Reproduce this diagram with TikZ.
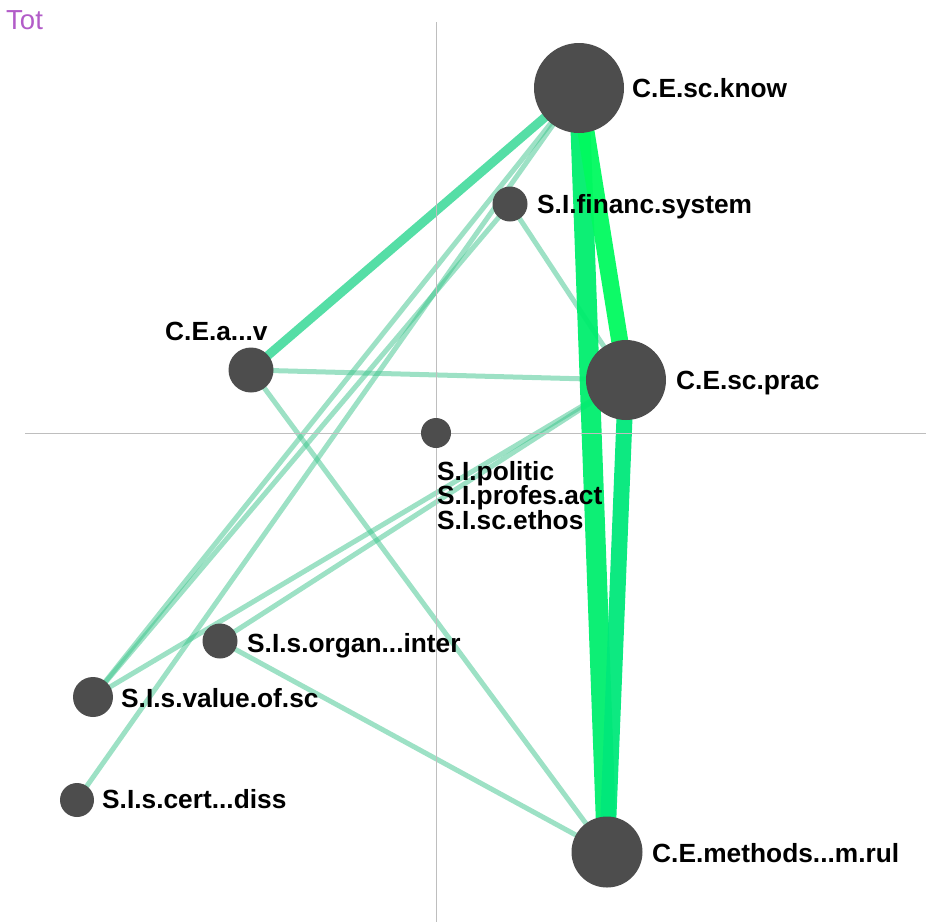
\documentclass[tikz,border=0pt]{standalone}
\usepackage{fontspec}
\setmainfont{Liberation Sans}
\definecolor{dotfill}{RGB}{77,77,77}
\definecolor{axisgray}{RGB}{190,190,190}
\definecolor{totpurple}{RGB}{178,92,200}
\definecolor{thinteal}{RGB}{60,196,140}
\definecolor{thickteal}{RGB}{85,222,166}
\definecolor{greenA}{RGB}{0,238,110}
\definecolor{greenB}{RGB}{0,250,95}
\definecolor{greenC}{RGB}{0,232,122}
\pgfdeclarelayer{bg}
\pgfsetlayers{bg,main}
\tikzset{
  dot/.style={circle, fill=dotfill, draw=none, inner sep=0pt, minimum size=#1},
  lbl/.style={anchor=base west, inner sep=0pt, font=\fontsize{26.3}{24}\selectfont\bfseries, text=black},
  thinedge/.style={draw=thinteal, line width=5pt, opacity=0.5},
  axisline/.style={draw=axisgray, line width=1pt},
}
\begin{document}
\begin{tikzpicture}[x=1pt,y=-1pt]
\useasboundingbox (0,0) rectangle (926,922);
% axes
\draw[axisline] (436,22) -- (436,922);
\draw[axisline] (25,433) -- (926,433);
% title
\node[anchor=base west, inner sep=0pt, font=\fontsize{27.5}{27}\selectfont, text=totpurple] (tot) at (6,29.5) {Tot};
% nodes
\node[dot=90pt] (know) at (579,88) {};
\node[dot=35pt] (fin) at (510,204) {};
\node[dot=80pt] (prac) at (626,380) {};
\node[dot=45pt] (cea) at (251,370) {};
\node[dot=30pt] (pol) at (436,433) {};
\node[dot=35pt] (org) at (220,641) {};
\node[dot=40pt] (val) at (93,697) {};
\node[dot=34pt] (cert) at (77,800) {};
\node[dot=71pt] (meth) at (607,852) {};
% edges
\begin{pgfonlayer}{bg}
\draw[thinedge] (know.center) -- (val.center);
\draw[thinedge] (know.center) -- (cert.center);
\draw[thinedge] (fin.center) -- (val.center);
\draw[thinedge] (fin.center) -- (prac.center);
\draw[thinedge] (cea.center) -- (prac.center);
\draw[thinedge] (cea.center) -- (meth.center);
\draw[thinedge] (org.center) -- (prac.center);
\draw[thinedge] (org.center) -- (meth.center);
\draw[thinedge] (val.center) -- (prac.center);
\draw[draw=thickteal, line width=9pt] (know.center) -- (cea.center);
\draw[draw=greenA, line width=20pt, opacity=0.95] (know.center) -- (meth.center);
\draw[draw=greenB, line width=17pt, opacity=0.95] (know.center) -- (prac.center);
\draw[draw=greenC, line width=16pt, opacity=0.95] (prac.center) -- (meth.center);
\end{pgfonlayer}
% labels
\node[lbl] (knowl) at (632,97) {C.E.sc.know};
\node[lbl] (finl) at (537,213) {S.I.financ.system};
\node[lbl] (ceal) at (165,340) {C.E.a...v};
\node[lbl] (pracl) at (676,389) {C.E.sc.prac};
\node[lbl] (poll1) at (437,480) {S.I.politic};
\node[lbl] (poll2) at (437,504.5) {S.I.profes.act};
\node[lbl] (poll3) at (437,529) {S.I.sc.ethos};
\node[lbl] (orgl) at (247,652) {S.I.s.organ...inter};
\node[lbl] (vall) at (121,707) {S.I.s.value.of.sc};
\node[lbl] (certl) at (102,808) {S.I.s.cert...diss};
\node[lbl] (methl) at (652,862) {C.E.methods...m.rul};
\end{tikzpicture}
\end{document}
